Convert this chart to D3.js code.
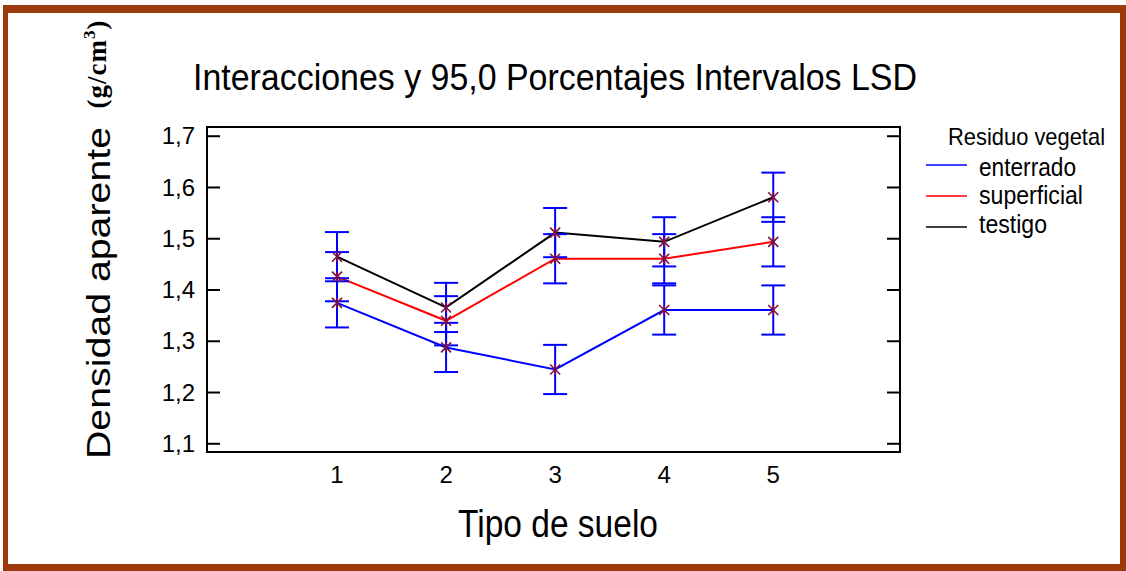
<!DOCTYPE html>
<html>
<head>
<meta charset="utf-8">
<script src="https://cdn.jsdelivr.net/npm/d3@7"></script>
<style>
  body { margin: 0; background: #fff; }
  text { font-family: "Liberation Sans", Arial, sans-serif; fill: #000; }
</style>
</head>
<body>
<div id="chart"></div>
<script>
// soil types on the x axis
const categories = [1, 2, 3, 4, 5];

// mean bulk density per residue treatment
const enterrado   = [1.374, 1.287, 1.244, 1.360, 1.360];
const superficial = [1.425, 1.339, 1.460, 1.460, 1.493];
const testigo     = [1.464, 1.365, 1.511, 1.493, 1.580];

// half width of the 95% LSD interval
const lsdHalf = 0.048;

const seriesNames  = ["enterrado", "superficial", "testigo"];
const seriesColors = ["#0000ff", "#ff0000", "#000000"];
const yTicks = [1.1, 1.2, 1.3, 1.4, 1.5, 1.6, 1.7];

const width = 1126, height = 571;
const plot = { left: 207, right: 900, top: 127, bottom: 452 };

const svg = d3.select("#chart").append("svg")
  .attr("width", width)
  .attr("height", height);

// brown frame
const frameColor = "#9c3a0b";
svg.append("rect").attr("x", 3).attr("y", 5).attr("width", 1123).attr("height", 8).attr("fill", frameColor);
svg.append("rect").attr("x", 3).attr("y", 564).attr("width", 1123).attr("height", 7).attr("fill", frameColor);
svg.append("rect").attr("x", 3).attr("y", 5).attr("width", 5).attr("height", 566).attr("fill", frameColor);
svg.append("rect").attr("x", 1120).attr("y", 5).attr("width", 6).attr("height", 566).attr("fill", frameColor);

const x = d3.scaleLinear().domain([-0.192, 6.162]).range([plot.left, plot.right]);
const y = d3.scaleLinear().domain([1.083, 1.717]).range([plot.bottom, plot.top]);

// plot box
svg.append("rect")
  .attr("x", plot.left).attr("y", plot.top)
  .attr("width", plot.right - plot.left).attr("height", plot.bottom - plot.top)
  .attr("fill", "none").attr("stroke", "#000").attr("stroke-width", 2);

// inward ticks on left and right
const fmt = d => d3.format(".1f")(d).replace(".", ",");
const yLeft = svg.append("g").attr("transform", `translate(${plot.left},0)`)
  .call(d3.axisRight(y).tickValues(yTicks).tickSize(13).tickFormat(""));
const yRight = svg.append("g").attr("transform", `translate(${plot.right},0)`)
  .call(d3.axisLeft(y).tickValues(yTicks).tickSize(13).tickFormat(""));
[yLeft, yRight].forEach(g => {
  g.select(".domain").remove();
  g.selectAll("line").attr("stroke", "#000").attr("stroke-width", 2);
});

svg.append("g").selectAll("text")
  .data(yTicks)
  .join("text")
  .attr("x", 195)
  .attr("y", d => y(d))
  .attr("dy", "0.36em")
  .attr("text-anchor", "end")
  .attr("font-size", 24)
  .text(fmt);

svg.append("g").selectAll("text")
  .data(categories)
  .join("text")
  .attr("x", d => x(d))
  .attr("y", 483)
  .attr("text-anchor", "middle")
  .attr("font-size", 24)
  .text(d => d);

// titles
svg.append("text")
  .attr("x", 193).attr("y", 90)
  .attr("font-size", 37)
  .attr("textLength", 724).attr("lengthAdjust", "spacingAndGlyphs")
  .text("Interacciones y 95,0 Porcentajes Intervalos LSD");

svg.append("text")
  .attr("x", 458).attr("y", 537)
  .attr("font-size", 39)
  .attr("textLength", 200).attr("lengthAdjust", "spacingAndGlyphs")
  .text("Tipo de suelo");

svg.append("text")
  .attr("transform", "translate(110,293) rotate(-90)")
  .attr("text-anchor", "middle")
  .attr("font-size", 34)
  .attr("textLength", 332).attr("lengthAdjust", "spacingAndGlyphs")
  .text("Densidad aparente");

const unit = svg.append("text")
  .attr("transform", "translate(106,64) rotate(-90)")
  .attr("text-anchor", "middle")
  .attr("font-size", 27)
  .attr("font-weight", "bold")
  .attr("letter-spacing", 1)
  .style("font-family", "'Liberation Serif', 'Times New Roman', serif");
unit.append("tspan").text("(g/cm");
unit.append("tspan").attr("font-size", 17).attr("dy", -11).text("3");
unit.append("tspan").attr("dy", 11).text(")");

// series
const allSeries = [enterrado, superficial, testigo];
const line = d3.line().x((d, i) => x(categories[i])).y(d => y(d));

allSeries.forEach((vals, k) => {
  svg.append("path")
    .datum(vals)
    .attr("d", line)
    .attr("fill", "none")
    .attr("stroke", seriesColors[k])
    .attr("stroke-width", 2);
});

// LSD intervals, all blue
const bars = svg.append("g").attr("stroke", "#0000ff").attr("stroke-width", 2);
allSeries.forEach(vals => {
  vals.forEach((v, i) => {
    const cx = x(categories[i]);
    bars.append("line").attr("x1", cx).attr("x2", cx)
      .attr("y1", y(v - lsdHalf)).attr("y2", y(v + lsdHalf));
    [v - lsdHalf, v + lsdHalf].forEach(e => {
      bars.append("line").attr("x1", cx - 12).attr("x2", cx + 12)
        .attr("y1", y(e)).attr("y2", y(e));
    });
  });
});

// asterisk markers
const marks = svg.append("g").attr("stroke", "#7d1048").attr("stroke-width", 1.6);
allSeries.forEach(vals => {
  vals.forEach((v, i) => {
    const cx = x(categories[i]), cy = y(v), s = 5;
    marks.append("line").attr("x1", cx - s).attr("y1", cy - s).attr("x2", cx + s).attr("y2", cy + s);
    marks.append("line").attr("x1", cx - s).attr("y1", cy + s).attr("x2", cx + s).attr("y2", cy - s);
    marks.append("line").attr("x1", cx).attr("y1", cy - s).attr("x2", cx).attr("y2", cy + s);
  });
});

// legend
svg.append("text")
  .attr("x", 948).attr("y", 145)
  .attr("font-size", 24)
  .attr("textLength", 157).attr("lengthAdjust", "spacingAndGlyphs")
  .text("Residuo vegetal");

const legendY = [165, 196, 227];
const legendBase = [176, 204, 233];
const legendLen = [97, 104, 68];
seriesNames.forEach((name, k) => {
  svg.append("line")
    .attr("x1", 926).attr("x2", 967)
    .attr("y1", legendY[k]).attr("y2", legendY[k])
    .attr("stroke", seriesColors[k]).attr("stroke-width", 1.5);
  svg.append("text")
    .attr("x", 979).attr("y", legendBase[k])
    .attr("font-size", 25)
    .attr("textLength", legendLen[k]).attr("lengthAdjust", "spacingAndGlyphs")
    .text(name);
});
</script>
</body>
</html>
